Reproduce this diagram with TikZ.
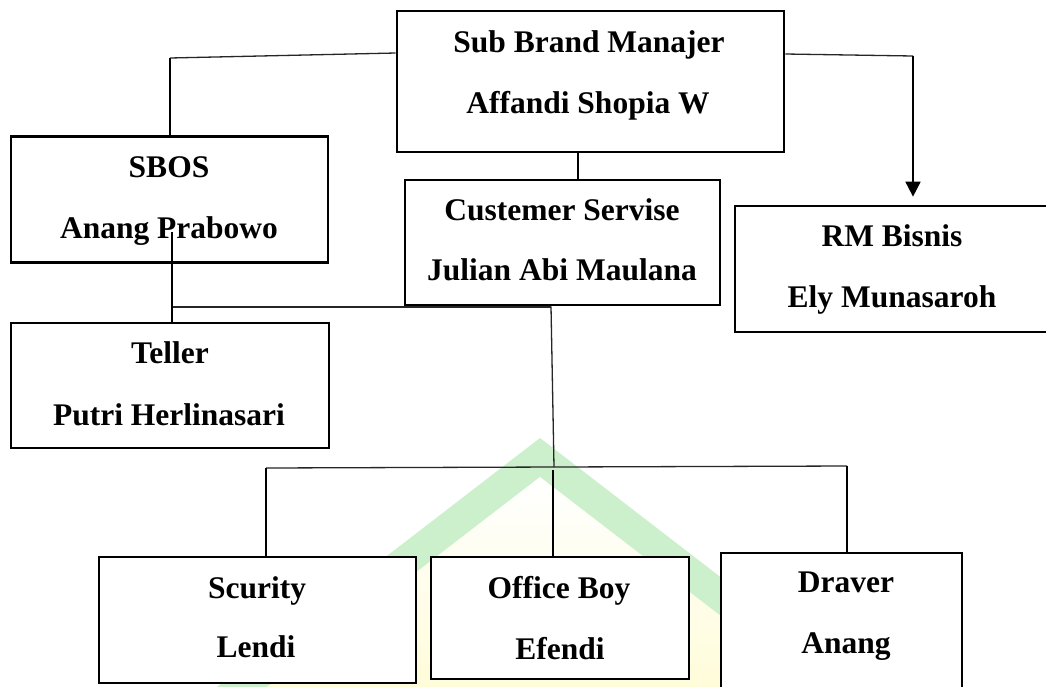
\documentclass[tikz,border=0pt]{standalone}
\usepackage{fontspec}
\setmainfont{Liberation Serif}
\usetikzlibrary{arrows.meta}
\definecolor{wmgreen}{RGB}{204,240,204}
\definecolor{wmyellow}{RGB}{255,252,215}
\tikzset{
  box/.style={draw=black, line width=2.7pt, fill=white, rectangle, inner sep=0pt},
  lbl/.style={font=\fontsize{31.5}{36}\selectfont\bfseries, anchor=base, inner sep=0pt},
  conn/.style={draw=black, line width=1.7pt},
  thinconn/.style={draw=black!85, line width=1.3pt},
  thickconn/.style={draw=black, line width=2.6pt},
}
\begin{document}
\begin{tikzpicture}[x=1pt,y=-1pt]
\useasboundingbox (0,0) rectangle (1046,686);
\clip (0,0) rectangle (1046,686);
\fill[white] (0,0) rectangle (1046,686);
% watermark
\fill[wmgreen] (540,438) -- (880,700) -- (200,700) -- cycle;
\shade[top color=white, bottom color=wmyellow] (540,477) -- (830,700) -- (250,700) -- cycle;
% named joints
\coordinate (j1) at (170,58);
\coordinate (j2) at (913,56);
\coordinate (j3) at (172,232);
\coordinate (j4) at (173,307);
\coordinate (j5) at (551,307);
\coordinate (j6) at (554,467);
\coordinate (bl) at (266,468);
\coordinate (br) at (847,466);
% boxes
\node[box, minimum width=387pt, minimum height=141pt] (sbm) at (590.5,81.5) {};
\node[box, minimum width=317pt, minimum height=126pt] (sbos) at (169.5,199.5) {};
\node[box, minimum width=315pt, minimum height=125pt] (cs) at (562.5,242.5) {};
\node[box, minimum width=326pt, minimum height=126pt] (rm) at (898,269) {};
\node[box, minimum width=318pt, minimum height=125pt] (teller) at (170,385.5) {};
\node[box, minimum width=317pt, minimum height=126pt] (scur) at (257.5,620) {};
\node[box, minimum width=258pt, minimum height=122pt] (ob) at (560,618) {};
\node[box, minimum width=241pt, minimum height=160pt] (drv) at (841.5,633) {};
% connectors
\draw[thinconn] (sbm.west |- 0,53) -- (j1);
\draw[conn] (j1) -- (sbos.north -| j1);
\draw[conn] (sbm.south -| 578,0) -- (cs.north -| 578,0);
\draw[thinconn] (sbm.east |- 0,54) -- (j2);
\draw[conn, -{Triangle[width=15pt,length=15pt]}, shorten >=8pt] (j2) -- (rm.north -| j2);
\draw[conn] (j3) -- (teller.north -| j3);
\draw[thinconn] (j4) -- (j5);
\draw[thinconn] (cs.south -| j5) -- (j6);
\draw[thinconn] (bl) -- (br);
\draw[conn] (bl) -- (scur.north -| bl);
\draw[thickconn] (553,470) coordinate (j7) -- (ob.north -| j7);
\draw[conn] (br) -- (drv.north -| br);
% labels
\node[lbl] (t1a) at (589,52) {Sub Brand Manajer};
\node[lbl] (t1b) at (588,113) {Affandi Shopia W};
\node[lbl] (t2a) at (169,177) {SBOS};
\node[lbl] (t2b) at (169,238) {Anang Prabowo};
\node[lbl] (t3a) at (562,220) {Custemer Servise};
\node[lbl] (t3b) at (562,280) {Julian Abi Maulana};
\node[lbl] (t4a) at (892,246) {RM Bisnis};
\node[lbl] (t4b) at (892,307) {Ely Munasaroh};
\node[lbl] (t5a) at (170,363) {Teller};
\node[lbl] (t5b) at (169,425) {Putri Herlinasari};
\node[lbl] (t6a) at (257,598) {Scurity};
\node[lbl] (t6b) at (256,657) {Lendi};
\node[lbl] (t7a) at (559,598) {Office Boy};
\node[lbl] (t7b) at (560,659) {Efendi};
\node[lbl] (t8a) at (846,592) {Draver};
\node[lbl] (t8b) at (846,653) {Anang};
% line drawn over SBOS box and its text
\draw[conn] (j3) -- (sbos.south -| j3);
\end{tikzpicture}
\end{document}
